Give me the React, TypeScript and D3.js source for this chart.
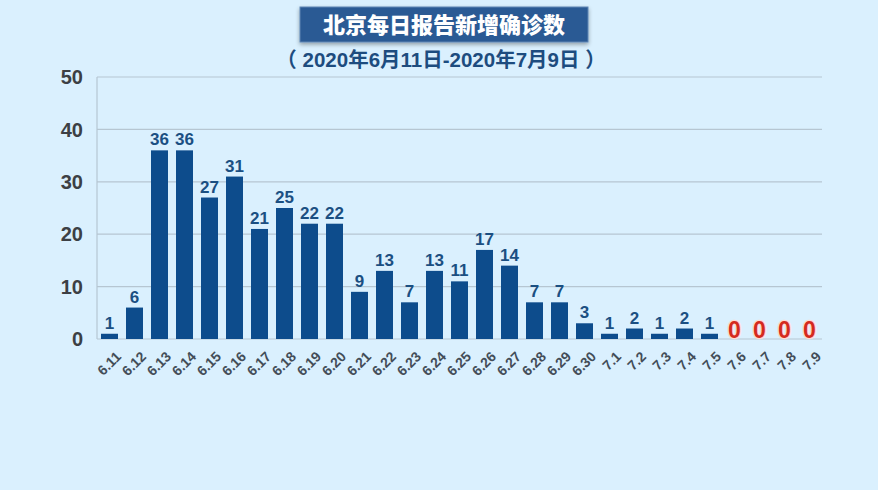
import React, { useEffect } from "react";
import * as d3 from "d3";

const dates = [
  "6.11", "6.12", "6.13", "6.14", "6.15", "6.16", "6.17", "6.18", "6.19", "6.20",
  "6.21", "6.22", "6.23", "6.24", "6.25", "6.26", "6.27", "6.28", "6.29", "6.30",
  "7.1", "7.2", "7.3", "7.4", "7.5", "7.6", "7.7", "7.8", "7.9",
];
const cases = [
  1, 6, 36, 36, 27, 31, 21, 25, 22, 22,
  9, 13, 7, 13, 11, 17, 14, 7, 7, 3,
  1, 2, 1, 2, 1, 0, 0, 0, 0,
];
const yTicks = [0, 10, 20, 30, 40, 50];
const title = "北京每日报告新增确诊数";
const subtitle = "（ 2020年6月11日-2020年7月9日 ）";

const width = 878,
  height = 490;
const margin = { left: 97, right: 56, top: 77, bottom: 151 };

const font = "'Liberation Sans', Arial, 'Noto Sans CJK SC', sans-serif";
const cjk = "'Noto Sans CJK SC', 'Liberation Sans', sans-serif";

const App = () => {
  useEffect(() => {
    document.body.style.margin = "0";
  }, []);

  const x = d3
    .scaleBand()
    .domain(dates)
    .range([margin.left, width - margin.right])
    .paddingInner(0.32)
    .paddingOuter(0.16);

  const y = d3
    .scaleLinear()
    .domain([0, 50])
    .range([height - margin.bottom, margin.top]);

  const data = dates.map((d, i) => ({ date: d, value: cases[i] }));

  return (
    <svg width={width} height={height} style={{ display: "block" }}>
      <defs>
        <filter id="boxshadow" x="-10%" y="-30%" width="120%" height="170%">
          <feGaussianBlur in="SourceAlpha" stdDeviation="2" result="blur" />
          <feOffset in="blur" dx="0" dy="2" result="off" />
          <feComponentTransfer in="off" result="soft">
            <feFuncA type="linear" slope="0.35" />
          </feComponentTransfer>
          <feMerge>
            <feMergeNode in="soft" />
            <feMergeNode in="SourceGraphic" />
          </feMerge>
        </filter>
      </defs>
      <rect width={width} height={height} fill="#daf0fe" />

      {/* title */}
      <rect
        x={300}
        y={7}
        width={288}
        height={35}
        fill="#2c5a94"
        stroke="#5f86b3"
        strokeWidth={1}
        filter="url(#boxshadow)"
      />
      <text
        x={444}
        y={32.5}
        textAnchor="middle"
        fill="#ffffff"
        fontFamily={cjk}
        fontWeight={900}
        fontSize={22}
      >
        {title}
      </text>
      <text
        x={441}
        y={67}
        textAnchor="middle"
        fill="#1d4c7f"
        fontFamily={font}
        fontWeight={700}
        fontSize={20.5}
      >
        {subtitle}
      </text>

      {/* grid */}
      {yTicks.map((t) => (
        <g key={t}>
          <line
            x1={margin.left}
            x2={width - margin.right}
            y1={y(t)}
            y2={y(t)}
            stroke="#b6c6d2"
            strokeWidth={1.2}
          />
          <text
            x={margin.left - 14}
            y={y(t)}
            dy="0.36em"
            textAnchor="end"
            fill="#3c3f44"
            fontFamily={font}
            fontWeight={700}
            fontSize={20}
          >
            {t}
          </text>
        </g>
      ))}
      <line
        x1={margin.left}
        x2={margin.left}
        y1={y(50)}
        y2={y(0)}
        stroke="#b6c6d2"
        strokeWidth={1.2}
      />

      {/* bars */}
      {data.map((d) => {
        const cx = (x(d.date) as number) + x.bandwidth() / 2;
        return (
          <g key={d.date}>
            {d.value > 0 && (
              <rect
                x={x(d.date)}
                y={y(d.value)}
                width={x.bandwidth()}
                height={y(0) - y(d.value)}
                fill="#0d4c8c"
              />
            )}
            {d.value > 0 ? (
              <text
                x={cx}
                y={y(d.value) - 5}
                textAnchor="middle"
                fill="#1b4f82"
                fontFamily={font}
                fontWeight={700}
                fontSize={17}
              >
                {d.value}
              </text>
            ) : (
              <text
                x={cx}
                y={y(0) - 1}
                textAnchor="middle"
                fill="#d42a1e"
                stroke="#ffd9d0"
                strokeWidth={2.5}
                paintOrder="stroke"
                fontFamily={font}
                fontWeight={700}
                fontSize={23}
              >
                {d.value}
              </text>
            )}
            <text
              transform={`translate(${cx + 9},${y(0) + 15}) rotate(-45)`}
              textAnchor="end"
              dy="0.35em"
              fill="#434d58"
              fontFamily={font}
              fontWeight={700}
              fontSize={14}
            >
              {d.date}
            </text>
          </g>
        );
      })}
    </svg>
  );
};

export default App;
